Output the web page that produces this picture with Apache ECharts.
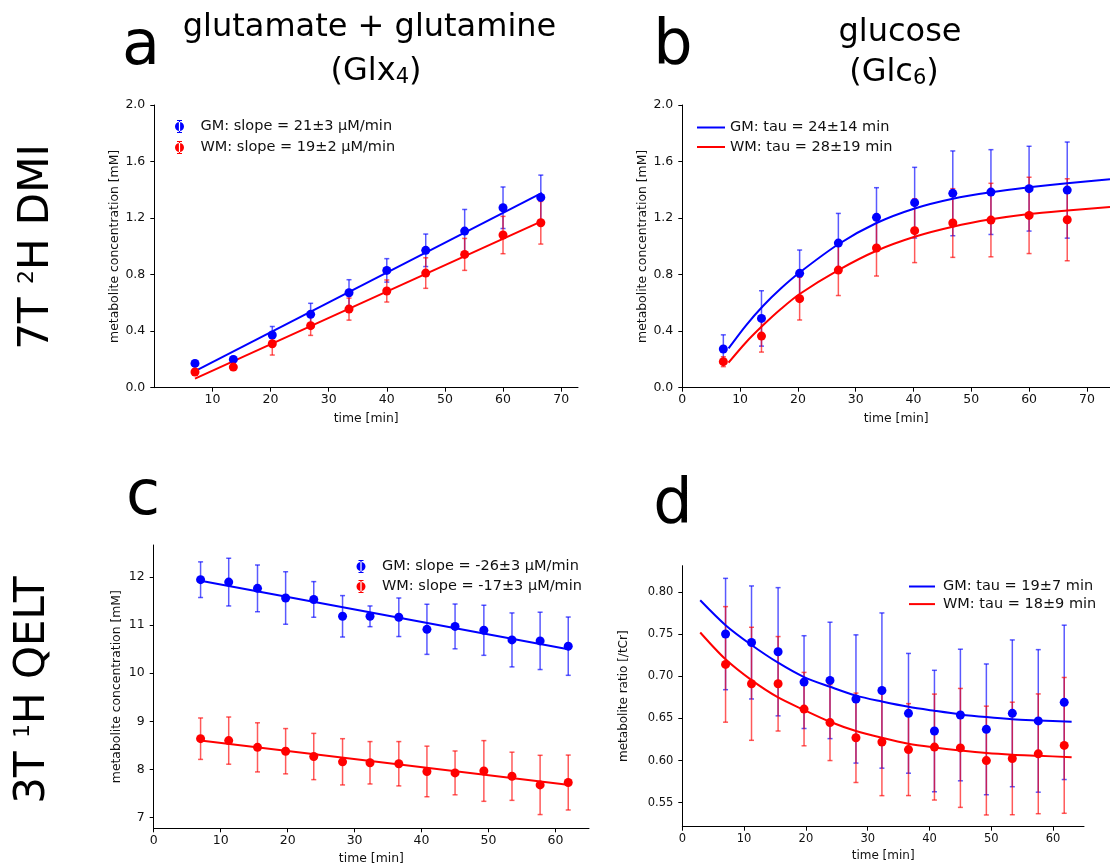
<!DOCTYPE html>
<html lang="en">
<head>
    <meta charset="UTF-8">
    <script src="https://cdn.jsdelivr.net/npm/echarts@6.0.0/dist/echarts.min.js"></script>
    <title>Glx / Glc time courses</title>
    <style>
        html, body { margin: 0; padding: 0; background: #fff; }
        #main { width: 1110px; height: 868px; }
    </style>
</head>
<body>
    <div id="main"></div>
    <script>
        // panel a: Glx4, 7T 2H DMI
        var aTime = [7.0, 13.6, 20.3, 26.9, 33.5, 40.0, 46.7, 53.4, 60.0, 66.5];
        var aGM = [0.172, 0.200, 0.373, 0.519, 0.672, 0.830, 0.972, 1.108, 1.273, 1.346];
        var aGMErr = [0.02, 0.02, 0.06, 0.078, 0.092, 0.083, 0.115, 0.153, 0.147, 0.158];
        var aWM = [0.111, 0.146, 0.311, 0.439, 0.556, 0.684, 0.811, 0.943, 1.080, 1.167];
        var aWMErr = [0.02, 0.02, 0.08, 0.069, 0.078, 0.078, 0.108, 0.113, 0.132, 0.151];
        var aFitTime = [7.0, 66.7];
        var aGMFit = [0.118, 1.379];
        var aWMFit = [0.064, 1.179];

        // panel b: Glc6, 7T 2H DMI
        var bTime = [7.1, 13.7, 20.3, 27.0, 33.6, 40.2, 46.8, 53.4, 60.0, 66.6];
        var bGM = [0.274, 0.490, 0.809, 1.023, 1.205, 1.309, 1.375, 1.384, 1.408, 1.398];
        var bGMErr = [0.10, 0.196, 0.165, 0.21, 0.21, 0.25, 0.30, 0.30, 0.30, 0.34];
        var bWM = [0.184, 0.365, 0.630, 0.832, 0.988, 1.111, 1.165, 1.186, 1.219, 1.188];
        var bWMErr = [0.035, 0.113, 0.151, 0.18, 0.198, 0.226, 0.243, 0.26, 0.27, 0.29];
        var bFitTime = [8, 11, 14, 17, 20.3, 27, 33.6, 40.2, 46.8, 53.4, 60, 66.6, 74];
        var bGMFit = [0.278, 0.44, 0.58, 0.70, 0.815, 1.015, 1.165, 1.268, 1.337, 1.383, 1.418, 1.447, 1.474];
        var bWMFit = [0.177, 0.32, 0.443, 0.555, 0.663, 0.832, 0.969, 1.068, 1.139, 1.191, 1.229, 1.254, 1.278];

        // panel c: 3T 1H QELT concentration
        var cTime = [7.0, 11.2, 15.5, 19.7, 23.9, 28.2, 32.3, 36.6, 40.8, 45.0, 49.3, 53.5, 57.7, 61.9];
        var cGM = [11.94, 11.89, 11.76, 11.56, 11.53, 11.18, 11.18, 11.16, 10.91, 10.97, 10.89, 10.69, 10.67, 10.56];
        var cGMErr = [0.37, 0.495, 0.485, 0.545, 0.37, 0.43, 0.215, 0.40, 0.52, 0.465, 0.52, 0.56, 0.595, 0.605];
        var cWM = [8.64, 8.60, 8.46, 8.38, 8.27, 8.16, 8.14, 8.12, 7.96, 7.93, 7.97, 7.86, 7.68, 7.73];
        var cWMErr = [0.43, 0.49, 0.51, 0.47, 0.48, 0.48, 0.44, 0.46, 0.525, 0.455, 0.63, 0.50, 0.615, 0.57];
        var cFitTime = [7.0, 62.1];
        var cGMFit = [11.92, 10.49];
        var cWMFit = [8.60, 7.68];

        // panel d: 3T 1H QELT ratio
        var dTime = [7.0, 11.2, 15.5, 19.7, 23.9, 28.1, 32.3, 36.6, 40.8, 45.0, 49.2, 53.4, 57.6, 61.8];
        var dGM = [0.750, 0.740, 0.729, 0.693, 0.695, 0.673, 0.683, 0.656, 0.635, 0.654, 0.637, 0.656, 0.647, 0.669];
        var dGMErr = [0.066, 0.067, 0.076, 0.055, 0.069, 0.076, 0.092, 0.071, 0.072, 0.078, 0.0775, 0.087, 0.0845, 0.0915];
        var dWM = [0.714, 0.691, 0.691, 0.661, 0.645, 0.627, 0.622, 0.613, 0.616, 0.615, 0.600, 0.6025, 0.608, 0.618];
        var dWMErr = [0.0685, 0.067, 0.056, 0.0435, 0.045, 0.053, 0.0636, 0.0545, 0.0628, 0.0705, 0.0645, 0.0667, 0.071, 0.0805];
        var dFitTime = [2.9, 7, 11.2, 15.5, 19.7, 23.9, 28.1, 32.3, 36.6, 40.8, 45, 49.2, 53.4, 57.6, 63];
        var dGMFit = [0.790, 0.7605, 0.737, 0.716, 0.699, 0.6875, 0.677, 0.670, 0.6637, 0.659, 0.6547, 0.6515, 0.649, 0.6476, 0.646];
        var dWMFit = [0.7518, 0.720, 0.6953, 0.6748, 0.660, 0.646, 0.635, 0.627, 0.620, 0.6156, 0.612, 0.609, 0.607, 0.6057, 0.604];

        // tick labels
        var aXTicks = [10, 20, 30, 40, 50, 60, 70];
        var bXTicks = [0, 10, 20, 30, 40, 50, 60, 70];
        var abYTicks = [0.0, 0.4, 0.8, 1.2, 1.6, 2.0];
        var cdXTicks = [0, 10, 20, 30, 40, 50, 60];
        var cYTicks = [7, 8, 9, 10, 11, 12];
        var dYTicks = [0.55, 0.60, 0.65, 0.70, 0.75, 0.80];

        var legendA = ['GM: slope = 21±3 µM/min', 'WM: slope = 19±2 µM/min'];
        var legendB = ['GM: tau = 24±14 min', 'WM: tau = 28±19 min'];
        var legendC = ['GM: slope = -26±3 µM/min', 'WM: slope = -17±3 µM/min'];
        var legendD = ['GM: tau = 19±7 min', 'WM: tau = 18±9 min'];

        var FONT = 'DejaVu Sans';
        var BLUE = '#0000ff', RED = '#ff0000';
        var BLUE_BAR = 'rgba(0,0,255,0.65)', RED_BAR = 'rgba(255,0,0,0.65)';
        var ERR_ICON = 'path://M0.5 6.5A4.5 4.5 0 1 0 9.5 6.5A4.5 4.5 0 1 0 0.5 6.5Z M4.4 0H5.6V13H4.4Z M2.5 0H7.5V1H2.5Z M2.5 12H7.5V13H2.5Z';

        function pairs(t, y) {
            return t.map(function (x, i) { return [x, y[i]]; });
        }

        function xAxis(idx, min, max, ticks, fs, nameFs, gap) {
            return {
                type: 'value', gridIndex: idx, min: min, max: max,
                name: 'time [min]', nameLocation: 'middle', nameGap: gap,
                nameTextStyle: { fontSize: nameFs, color: '#111', fontFamily: FONT },
                axisLine: { show: true, onZero: false, lineStyle: { color: '#000', width: 1 } },
                axisTick: { show: true, length: 4, customValues: ticks, lineStyle: { color: '#000' } },
                axisLabel: { customValues: ticks, fontSize: fs, color: '#111', margin: 6, fontFamily: FONT },
                splitLine: { show: false }
            };
        }

        function yAxis(idx, min, max, ticks, dec, name, fs, nameFs, gap) {
            return {
                type: 'value', gridIndex: idx, min: min, max: max,
                name: name, nameLocation: 'middle', nameGap: gap,
                nameTextStyle: { fontSize: nameFs, color: '#111', fontFamily: FONT },
                axisLine: { show: true, onZero: false, lineStyle: { color: '#000', width: 1 } },
                axisTick: { show: true, length: 4, customValues: ticks, lineStyle: { color: '#000' } },
                axisLabel: {
                    customValues: ticks, fontSize: fs, color: '#111', margin: 9, fontFamily: FONT,
                    formatter: function (v) { return v.toFixed(dec); }
                },
                splitLine: { show: false }
            };
        }

        function errBars(idx, t, y, e, color) {
            return {
                type: 'custom', xAxisIndex: idx, yAxisIndex: idx, silent: true, z: 1,
                data: t.map(function (x, i) { return [x, y[i] - e[i], y[i] + e[i]]; }),
                encode: { x: 0, y: [1, 2] },
                renderItem: function (params, api) {
                    var lo = api.coord([api.value(0), api.value(1)]);
                    var hi = api.coord([api.value(0), api.value(2)]);
                    var w = 2.5;
                    var st = { stroke: color, lineWidth: 1.5 };
                    return {
                        type: 'group', children: [
                            { type: 'line', shape: { x1: lo[0], y1: lo[1], x2: hi[0], y2: hi[1] }, style: st },
                            { type: 'line', shape: { x1: lo[0] - w, y1: lo[1], x2: lo[0] + w, y2: lo[1] }, style: st },
                            { type: 'line', shape: { x1: hi[0] - w, y1: hi[1], x2: hi[0] + w, y2: hi[1] }, style: st }
                        ]
                    };
                }
            };
        }

        function dots(idx, name, t, y, color) {
            return {
                type: 'scatter', name: name, xAxisIndex: idx, yAxisIndex: idx, z: 4,
                symbolSize: 9, itemStyle: { color: color, opacity: 1 },
                data: pairs(t, y)
            };
        }

        function fit(idx, name, t, y, color, smooth) {
            return {
                type: 'line', name: name, xAxisIndex: idx, yAxisIndex: idx, z: 3,
                showSymbol: false, symbol: 'none', smooth: smooth ? 0.3 : false,
                lineStyle: { color: color, width: 2 }, itemStyle: { color: color },
                data: pairs(t, y)
            };
        }

        function legend(names, left, top, icon, w, h, gap, pad) {
            return {
                data: names, orient: 'vertical', left: left, top: top,
                icon: icon, itemWidth: w, itemHeight: h, itemGap: gap,
                selectedMode: false, symbolKeepAspect: true,
                textStyle: { fontSize: 14.5, color: '#111', fontFamily: FONT, padding: [0, 0, 0, pad] }
            };
        }

        function label(text, x, y, size, rich, rot) {
            return {
                type: 'text', x: x, y: y, rotation: rot || 0,
                style: {
                    text: text, fontSize: size, fontFamily: FONT, fill: '#000',
                    align: 'center', verticalAlign: 'middle', rich: rich || {}
                }
            };
        }

        var sup = { s: { fontSize: 22, fontFamily: FONT, verticalAlign: 'top', fill: '#000' } };
        var sub = { s: { fontSize: 21, fontFamily: FONT, verticalAlign: 'bottom', fill: '#000' } };

        var chart = echarts.init(document.getElementById('main'));

        var option = {
            animation: false,
            backgroundColor: '#fff',
            textStyle: { fontFamily: FONT },
            grid: [
                { left: 154.3, top: 105, width: 423.7, height: 282.7 },
                { left: 682.3, top: 105, width: 430, height: 282.7 },
                { left: 153.7, top: 545, width: 435.3, height: 283.3 },
                { left: 682.3, top: 565.7, width: 401.7, height: 261 }
            ],
            xAxis: [
                xAxis(0, 0, 72.9, aXTicks, 12.5, 12.4, 25),
                xAxis(1, 0, 74, bXTicks, 12.5, 12.4, 25),
                xAxis(2, 0, 65, cdXTicks, 12.5, 12.4, 24),
                xAxis(3, 0, 65, cdXTicks, 11.5, 12, 23)
            ],
            yAxis: [
                yAxis(0, 0, 2.0, abYTicks, 1, 'metabolite concentration [mM]', 12.5, 12.4, 34),
                yAxis(1, 0, 2.0, abYTicks, 1, 'metabolite concentration [mM]', 12.5, 12.4, 34),
                yAxis(2, 6.78, 12.66, cYTicks, 0, 'metabolite concentration [mM]', 12.5, 12.4, 31),
                yAxis(3, 0.5216, 0.831, dYTicks, 2, 'metabolite ratio [/tCr]', 11.5, 12, 52)
            ],
            legend: [
                legend(legendA, 170, 114, ERR_ICON, 10, 13, 6, 11),
                legend(legendB, 692, 115, 'rect', 28, 2, 4.5, 0),
                legend(legendC, 351.5, 554, ERR_ICON, 10, 13, 5, 11),
                legend(legendD, 904, 574, 'rect', 26, 2, 2.6, 3)
            ],
            series: [
                errBars(0, aTime, aGM, aGMErr, BLUE_BAR),
                errBars(0, aTime, aWM, aWMErr, RED_BAR),
                fit(0, 'aGMfit', aFitTime, aGMFit, BLUE, false),
                fit(0, 'aWMfit', aFitTime, aWMFit, RED, false),
                dots(0, legendA[0], aTime, aGM, BLUE),
                dots(0, legendA[1], aTime, aWM, RED),

                errBars(1, bTime, bGM, bGMErr, BLUE_BAR),
                errBars(1, bTime, bWM, bWMErr, RED_BAR),
                fit(1, legendB[0], bFitTime, bGMFit, BLUE, true),
                fit(1, legendB[1], bFitTime, bWMFit, RED, true),
                dots(1, 'bGM', bTime, bGM, BLUE),
                dots(1, 'bWM', bTime, bWM, RED),

                errBars(2, cTime, cGM, cGMErr, BLUE_BAR),
                errBars(2, cTime, cWM, cWMErr, RED_BAR),
                fit(2, 'cGMfit', cFitTime, cGMFit, BLUE, false),
                fit(2, 'cWMfit', cFitTime, cWMFit, RED, false),
                dots(2, legendC[0], cTime, cGM, BLUE),
                dots(2, legendC[1], cTime, cWM, RED),

                errBars(3, dTime, dGM, dGMErr, BLUE_BAR),
                errBars(3, dTime, dWM, dWMErr, RED_BAR),
                fit(3, legendD[0], dFitTime, dGMFit, BLUE, true),
                fit(3, legendD[1], dFitTime, dWMFit, RED, true),
                dots(3, 'dGM', dTime, dGM, BLUE),
                dots(3, 'dWM', dTime, dWM, RED)
            ],
            graphic: [
                label('7T {s|2}H DMI', 37, 247, 42, sup, Math.PI / 2),
                label('3T {s|1}H QELT', 33, 690, 42, sup, Math.PI / 2),
                label('a', 141, 48, 62),
                label('b', 673, 47, 62),
                label('c', 143, 498, 62),
                label('d', 673, 506, 62),
                label('glutamate + glutamine', 369.5, 28, 32),
                label('(Glx{s|4})', 376, 72, 32, sub),
                label('glucose', 900, 33, 32),
                label('(Glc{s|6})', 894, 73, 32, sub)
            ]
        };

        chart.setOption(option);
    </script>
</body>
</html>
